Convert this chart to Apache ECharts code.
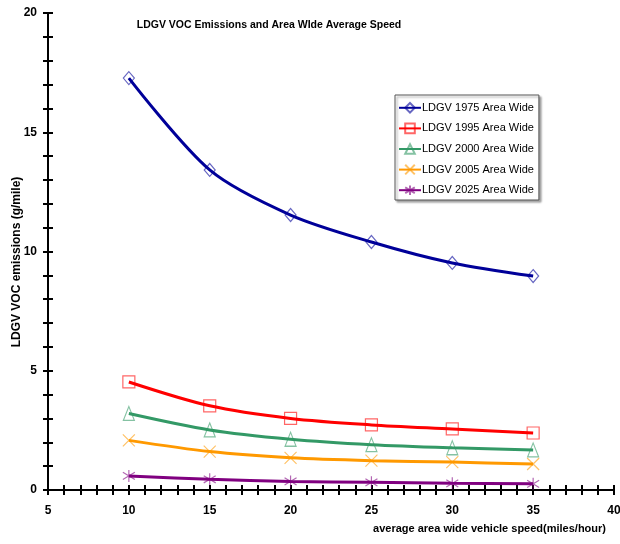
<!DOCTYPE html>
<html><head><meta charset="utf-8">
<script src="https://cdn.jsdelivr.net/npm/echarts@6/dist/echarts.min.js"></script>
<style>html,body{margin:0;padding:0;background:#fff}#c{width:620px;height:544px}</style>
</head><body><div id="c"></div>
<script>
const speeds = [10, 15, 20, 25, 30, 35];
const seriesNames = ['LDGV 1975 Area Wide','LDGV 1995 Area Wide','LDGV 2000 Area Wide','LDGV 2005 Area Wide','LDGV 2025 Area Wide'];
const v1975 = [17.27, 13.42, 11.53, 10.40, 9.52, 8.97];
const v1995 = [4.53, 3.53, 3.00, 2.73, 2.56, 2.39];
const v2000 = [3.21, 2.52, 2.13, 1.90, 1.77, 1.68];
const v2005 = [2.08, 1.61, 1.35, 1.23, 1.17, 1.09];
const v2025 = [0.59, 0.45, 0.36, 0.32, 0.28, 0.26];
const allValues = [v1975, v1995, v2000, v2005, v2025];
const yAxisTitle = 'LDGV VOC emissions (g/mile)';

const colors = ['#000099', '#ff0000', '#339966', '#ff9900', '#800080'];
const symbols = [
  'diamond',
  'rect',
  'path://M5,0L10,14L0,14Z',
  'path://M0,0L10,10M10,0L0,10',
  'path://M5,0L5,10M0,2L10,8M0,8L10,2'
];
const symSizes = [[11,13],[12,12],[11,14],[12,12],[12,12]];

const font = 'Arial, "Liberation Sans", sans-serif';
const chart = echarts.init(document.getElementById('c'), null, {renderer:'canvas'});

const series = allValues.map((vals, i) => ({
  name: seriesNames[i],
  type: 'line',
  smooth: 0.3,
  data: speeds.map((s, k) => [s, vals[k]]),
  symbol: symbols[i],
  symbolSize: symSizes[i],
  showAllSymbol: true,
  lineStyle: {color: colors[i], width: 3},
  itemStyle: {color: 'rgba(255,255,255,0)', borderColor: colors[i], borderWidth: 1.2, opacity: 0.6},
  emphasis: {disabled: true},
  z: 3
}));

const axisLine = {show: true, onZero: false, lineStyle: {color: '#000', width: 2}};
const labelStyle = {color: '#000', fontFamily: font, fontWeight: 'bold', fontSize: 12};

chart.setOption({
  animation: false,
  backgroundColor: '#fff',
  title: {
    text: 'LDGV VOC Emissions and Area WIde Average Speed',
    left: 264, top: 15, textAlign: 'center',
    textStyle: {fontFamily: font, fontSize: 10.5, fontWeight: 'bold', color: '#000'}
  },
  graphic: [{
    type: 'text', x: 17, y: 262, rotation: Math.PI / 2,
    style: {text: yAxisTitle, align: 'center', verticalAlign: 'middle',
      font: 'bold 12px Arial, "Liberation Sans", sans-serif', fill: '#000'}
  }],
  legend: {
    orient: 'vertical', left: 395, top: 95,
    data: seriesNames,
    itemWidth: 22, itemHeight: 12, itemGap: 9,
    padding: [7, 5, 4, 3],
    borderColor: '#555', borderWidth: 1,
    backgroundColor: '#fff',
    shadowColor: 'rgba(0,0,0,0.35)', shadowBlur: 2, shadowOffsetX: 2, shadowOffsetY: 2,
    textStyle: {fontFamily: font, fontSize: 11, color: '#000', padding: [0,0,0,-4]}
  },
  grid: {left: 48, right: 6, top: 13, bottom: 54, containLabel: false, outerBoundsMode: 'none'},
  xAxis: [{
    type: 'value', min: 5, max: 40, interval: 5,
    axisLine: axisLine,
    axisTick: {show: true, length: 5, lineStyle: {color: '#000', width: 2}},
    minorTick: {show: true, splitNumber: 5, length: 5, lineStyle: {color: '#000', width: 2}},
    splitLine: {show: false},
    axisLabel: Object.assign({margin: 15}, labelStyle),
    name: 'average area wide vehicle speed(miles/hour)',
    nameLocation: 'end', nameGap: 0,
    nameTextStyle: {fontFamily: font, fontSize: 11, fontWeight: 'bold', color: '#000', align: 'right', verticalAlign: 'top', padding: [33, 8, 0, 0]}
  }, {
    type: 'value', min: 5, max: 40, interval: 5, position: 'bottom',
    axisLine: {show: false},
    axisTick: {show: true, inside: true, length: 5, lineStyle: {color: '#000', width: 2}},
    minorTick: {show: true, splitNumber: 5, length: 5, lineStyle: {color: '#000', width: 2}},
    splitLine: {show: false}, axisLabel: {show: false}
  }],
  yAxis: [{
    type: 'value', min: 0, max: 20, interval: 5,
    axisLine: axisLine,
    axisTick: {show: true, length: 5, lineStyle: {color: '#000', width: 2}},
    minorTick: {show: true, splitNumber: 5, length: 5, lineStyle: {color: '#000', width: 2}},
    splitLine: {show: false},
    axisLabel: Object.assign({margin: 11}, labelStyle)
  }, {
    type: 'value', min: 0, max: 20, interval: 5, position: 'left',
    axisLine: {show: false},
    axisTick: {show: true, inside: true, length: 5, lineStyle: {color: '#000', width: 2}},
    minorTick: {show: true, splitNumber: 5, length: 5, lineStyle: {color: '#000', width: 2}},
    splitLine: {show: false}, axisLabel: {show: false}
  }],
  series: series
});
</script></body></html>
